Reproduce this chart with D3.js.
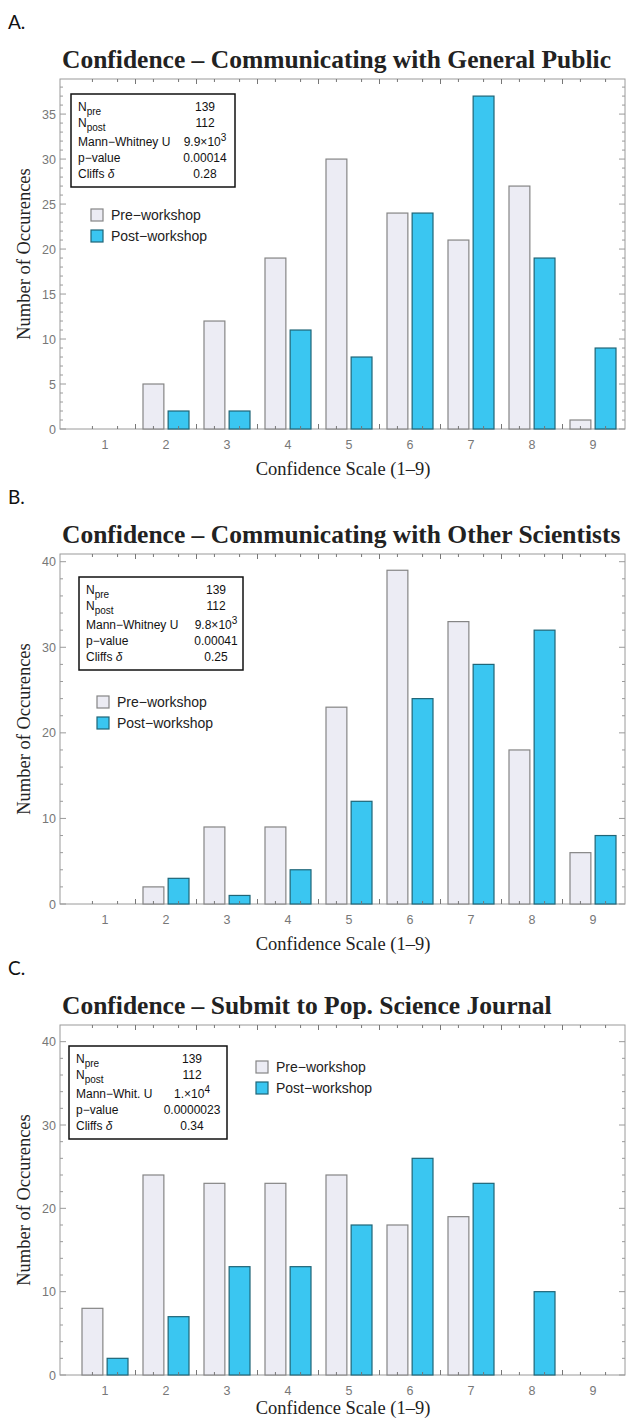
<!DOCTYPE html>
<html>
<head>
<meta charset="utf-8">
<script src="https://cdn.jsdelivr.net/npm/d3@7/dist/d3.min.js"></script>
<style>
body { margin: 0; background: #fff; }
svg text { font-family: "Liberation Sans", Arial, sans-serif; }
</style>
</head>
<body>
<script>
// data
var groups = [1, 2, 3, 4, 5, 6, 7, 8, 9];
var series = ["pre", "post"];
var legendLabels = ["Pre\u2212workshop", "Post\u2212workshop"];

var preA = [0, 5, 12, 19, 30, 24, 21, 27, 1];
var postA = [0, 2, 2, 11, 8, 24, 37, 19, 9];
var preB = [0, 2, 9, 9, 23, 39, 33, 18, 6];
var postB = [0, 3, 1, 4, 12, 24, 28, 32, 8];
var preC = [8, 24, 23, 23, 24, 18, 19, 0, 0];
var postC = [2, 7, 13, 13, 18, 26, 23, 10, 0];

var panelLetters = ["A.", "B.", "C."];
var titles = [
    "Confidence \u2013 Communicating with General Public",
    "Confidence \u2013 Communicating with Other Scientists",
    "Confidence \u2013 Submit to Pop. Science Journal"
];
var yMax = [38.9, 40.9, 42];
var yMajor = [[0, 5, 10, 15, 20, 25, 30, 35], [0, 10, 20, 30, 40], [0, 10, 20, 30, 40]];
var yMinorStep = [1, 2, 2];

var statNames = ["N|pre", "N|post", "Mann\u2212Whitney U", "p\u2212value", "Cliffs |\u03b4"];
var statNamesC = ["N|pre", "N|post", "Mann\u2212Whit. U", "p\u2212value", "Cliffs |\u03b4"];
var statsA = ["139", "112", "9.9\u00d710^3", "0.00014", "0.28"];
var statsB = ["139", "112", "9.8\u00d710^3", "0.00041", "0.25"];
var statsC = ["139", "112", "1.\u00d710^4", "0.0000023", "0.34"];

var W = 627, H = 1423;
var svg = d3.select("body").append("svg")
    .attr("width", W)
    .attr("height", H);

// layout (pixel positions per panel)
var layout = [
    {top: 79, bottom: 429, xlab: 46, box: {x: 71, y: 94, w: 164, vx: 205}, legend: {x: 91, y: 215}},
    {top: 554, bottom: 904, xlab: 46, box: {x: 79, y: 577, w: 164, vx: 216}, legend: {x: 97, y: 702}},
    {top: 1025, bottom: 1375, xlab: 39, box: {x: 69, y: 1046, w: 158, vx: 192}, legend: {x: 256, y: 1067}}
];

var panels = [
    {pre: preA, post: postA, names: statNames, stats: statsA},
    {pre: preB, post: postB, names: statNames, stats: statsB},
    {pre: preC, post: postC, names: statNamesC, stats: statsC}
];

var left = 60, right = 625;
var colors = {pre: "#ececf4", post: "#3ac6f1"};
var strokes = {pre: "#858585", post: "#1f6577"};
var axisCol = "#9a9a9a";

var x = d3.scaleBand()
    .domain(groups)
    .range([74.5, 623.5])
    .paddingInner(15 / 61)
    .paddingOuter(15 / 122);
var xs = d3.scaleBand()
    .domain(series)
    .range([0, x.bandwidth()])
    .paddingInner(0.17);

panels.forEach(function(p, i) {
    var L = layout[i];
    var g = svg.append("g");
    var y = d3.scaleLinear().domain([0, yMax[i]]).range([L.bottom, L.top]);

    g.append("text")
        .attr("x", 8).attr("y", L.top - 50)
        .style("font-family", "Lato, 'Open Sans', sans-serif")
        .style("font-size", "19px")
        .attr("fill", "#111")
        .text(panelLetters[i]);

    g.append("text")
        .attr("x", 62).attr("y", L.top - 11)
        .style("font-family", "'Liberation Serif', 'DejaVu Serif', serif")
        .style("font-size", "25.5px")
        .style("font-weight", "bold")
        .attr("fill", "#222")
        .text(titles[i]);

    // frame
    g.append("rect")
        .attr("x", left).attr("y", L.top)
        .attr("width", right - left).attr("height", L.bottom - L.top)
        .attr("fill", "none")
        .attr("stroke", axisCol)
        .attr("stroke-width", 1);

    // bars
    var rows = [];
    groups.forEach(function(gr, k) {
        series.forEach(function(s) {
            rows.push({g: gr, s: s, v: p[s][k]});
        });
    });
    g.selectAll(".bar").data(rows)
        .enter().append("rect")
        .attr("x", function(d) { return x(d.g) + xs(d.s); })
        .attr("width", xs.bandwidth())
        .attr("y", function(d) { return y(d.v); })
        .attr("height", function(d) { return y(0) - y(d.v); })
        .attr("fill", function(d) { return colors[d.s]; })
        .attr("stroke", function(d) { return strokes[d.s]; })
        .attr("stroke-width", 1.2);

    // y ticks, both sides, inward
    var minor = d3.range(0, yMax[i], yMinorStep[i]);
    minor.forEach(function(v) {
        var major = yMajor[i].indexOf(v) >= 0;
        var len = major ? 6 : 3;
        g.append("line").attr("x1", left).attr("x2", left + len)
            .attr("y1", y(v)).attr("y2", y(v)).attr("stroke", axisCol);
        g.append("line").attr("x1", right).attr("x2", right - len)
            .attr("y1", y(v)).attr("y2", y(v)).attr("stroke", axisCol);
    });
    g.selectAll(".ylab").data(yMajor[i])
        .enter().append("text")
        .attr("x", left - 4)
        .attr("y", function(d) { return y(d) + 4.5; })
        .attr("text-anchor", "end")
        .style("font-size", "12.5px")
        .attr("fill", "#777")
        .text(function(d) { return d; });

    // x ticks: group boundaries and bar centres
    groups.slice(1).forEach(function(gr) {
        var bx = x(gr) - x.step() * x.paddingInner() / 2;
        g.append("line").attr("x1", bx).attr("x2", bx)
            .attr("y1", L.bottom).attr("y2", L.bottom - 5).attr("stroke", "#777");
        g.append("line").attr("x1", bx).attr("x2", bx)
            .attr("y1", L.top).attr("y2", L.top + 5).attr("stroke", "#777");
    });
    rows.forEach(function(d) {
        var cx = x(d.g) + xs(d.s) + xs.bandwidth() / 2;
        g.append("line").attr("x1", cx).attr("x2", cx)
            .attr("y1", L.bottom).attr("y2", L.bottom - 3).attr("stroke", "#777");
        g.append("line").attr("x1", cx).attr("x2", cx)
            .attr("y1", L.top).attr("y2", L.top + 3).attr("stroke", "#777");
    });
    g.selectAll(".xlab").data(groups)
        .enter().append("text")
        .attr("x", function(d) { return x(d) + x.bandwidth() / 2; })
        .attr("y", L.bottom + 20)
        .attr("text-anchor", "middle")
        .style("font-size", "12.5px")
        .attr("fill", "#777")
        .text(function(d) { return d; });

    // axis labels
    g.append("text")
        .attr("x", 343).attr("y", L.bottom + L.xlab)
        .attr("text-anchor", "middle")
        .style("font-family", "'Liberation Serif', serif")
        .style("font-size", "18.5px")
        .attr("fill", "#222")
        .text("Confidence Scale (1\u20139)");
    g.append("text")
        .attr("transform", "translate(30," + ((L.top + L.bottom) / 2) + ") rotate(-90)")
        .attr("text-anchor", "middle")
        .style("font-family", "'Liberation Serif', serif")
        .style("font-size", "18.5px")
        .attr("fill", "#222")
        .text("Number of Occurences");

    // stats box
    var B = L.box;
    g.append("rect")
        .attr("x", B.x).attr("y", B.y)
        .attr("width", B.w).attr("height", 93)
        .attr("fill", "#fff")
        .attr("stroke", "#111")
        .attr("stroke-width", 1.5);
    var rowY = [17, 33, 52, 68, 84];
    p.names.forEach(function(n, r) {
        var t = g.append("text")
            .attr("x", B.x + 7).attr("y", B.y + rowY[r])
            .style("font-size", "12px")
            .attr("fill", "#111");
        var parts = n.split("|");
        t.append("tspan").text(parts[0]);
        if (parts[1] === "\u03b4") {
            t.append("tspan").style("font-style", "italic").text(parts[1]);
        } else if (parts[1]) {
            t.append("tspan").attr("dy", 3.5).style("font-size", "10px").text(parts[1]);
        }
    });
    p.stats.forEach(function(v, r) {
        var t = g.append("text")
            .attr("x", B.vx).attr("y", B.y + rowY[r])
            .attr("text-anchor", "middle")
            .style("font-size", "12px")
            .attr("fill", "#111");
        var parts = v.split("^");
        t.append("tspan").text(parts[0]);
        if (parts[1]) {
            t.append("tspan").attr("dy", -5).style("font-size", "10px").text(parts[1]);
        }
    });

    // legend
    var lg = L.legend;
    series.forEach(function(s, k) {
        var cy = lg.y + k * 21;
        g.append("rect")
            .attr("x", lg.x).attr("y", cy - 6)
            .attr("width", 12).attr("height", 12)
            .attr("fill", colors[s])
            .attr("stroke", strokes[s])
            .attr("stroke-width", 1.2);
        g.append("text")
            .attr("x", lg.x + 20).attr("y", cy + 5)
            .style("font-size", "14px")
            .attr("fill", "#222")
            .text(legendLabels[k]);
    });
});
</script>
</body>
</html>
